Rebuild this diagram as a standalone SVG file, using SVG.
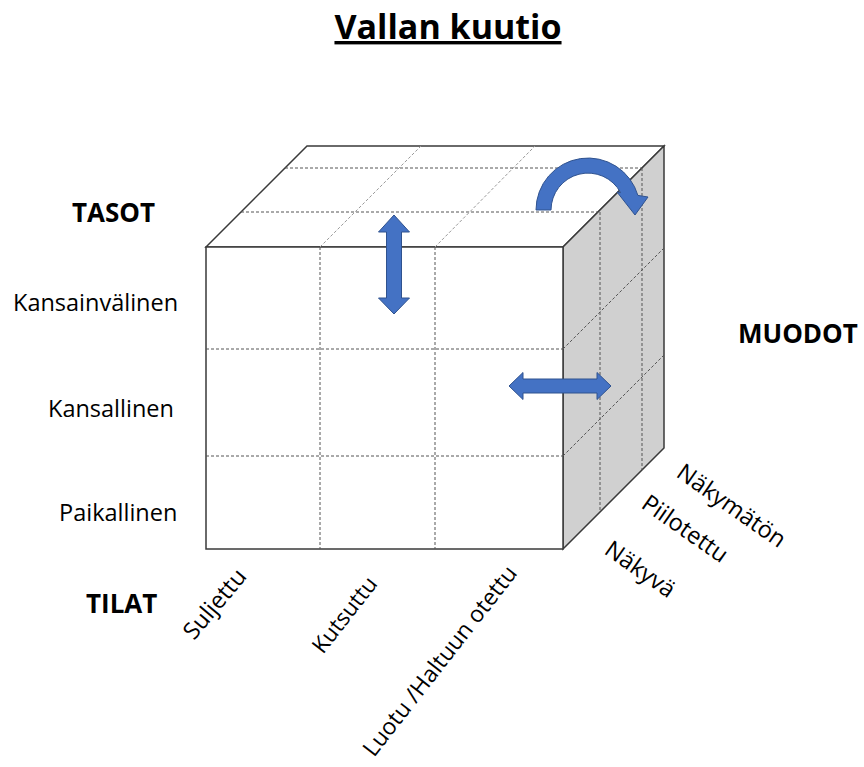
<svg xmlns="http://www.w3.org/2000/svg" width="864" height="767" viewBox="0 0 864 767">
<style>
.face{stroke:#3a3a3a;stroke-width:1.5;stroke-linejoin:miter}
.dash{stroke:#555;stroke-width:1;stroke-dasharray:3 2;fill:none}
.dashl{stroke:#999;stroke-width:1;stroke-dasharray:3 2;fill:none}
.arrow{fill:#4472C4;stroke:#2F528F;stroke-width:1}
.lbl{font-family:"Open Sans","Liberation Sans",sans-serif;font-size:23.5px;fill:#000}
.hd{font-family:"Open Sans","Liberation Sans",sans-serif;font-size:26px;font-weight:bold;fill:#000}
</style>
<rect width="864" height="767" fill="#fff"/>
<text x="448" y="39" text-anchor="middle" font-family="'Open Sans','Liberation Sans',sans-serif" font-size="34" font-weight="bold" text-decoration="underline">Vallan kuutio</text>
<g id="cube">
<polygon class="face" fill="#fff" points="206,247 307,146 664,146 563,247"/>
<polygon class="face" fill="#d0d0d0" points="563,247 664,146 664,448 563,549"/>
<rect class="face" fill="#fff" x="206" y="247" width="357" height="302"/>
<g id="grid">
<line class="dashl" x1="320" y1="247" x2="421" y2="146"/>
<line class="dashl" x1="435" y1="247" x2="535" y2="146"/>
<line class="dash" x1="285" y1="168" x2="642" y2="168"/>
<line class="dash" x1="241" y1="212" x2="598" y2="212"/>
<line class="dash" x1="320" y1="247" x2="320" y2="549"/>
<line class="dash" x1="435" y1="247" x2="435" y2="549"/>
<line class="dash" x1="206" y1="349" x2="563" y2="349"/>
<line class="dash" x1="206" y1="456" x2="563" y2="456"/>
<line class="dash" x1="600" y1="212" x2="600" y2="512"/>
<line class="dash" x1="642" y1="168" x2="642" y2="470"/>
<line class="dash" x1="563" y1="349" x2="664" y2="248"/>
<line class="dash" x1="563" y1="456" x2="664" y2="355"/>
</g>
</g>
<g id="arrows">
<polygon id="arrow-vertical" class="arrow" points="394,215 409.5,232 401.5,232 401.5,298 409.5,298 394,314 378.5,298 386.5,298 386.5,232 378.5,232"/>
<polygon id="arrow-horizontal" class="arrow" points="509,386 523,372.5 523,379 597,379 597,372.5 611,386 597,399.5 597,393 523,393 523,399.5"/>
<path id="arrow-curved" class="arrow" d="M536,210 A52,52 0 0 1 637.9,195.4 L648,197 L635,215 L617,192 L620.6,192.6 A37,37 0 0 0 551,210 Z"/>
</g>
<g id="labels">
<text class="hd" x="72" y="222">TASOT</text>
<text class="hd" x="738" y="343">MUODOT</text>
<text class="hd" x="86" y="613">TILAT</text>
<text class="lbl" x="13" y="311">Kansainvälinen</text>
<text class="lbl" x="48" y="417">Kansallinen</text>
<text class="lbl" x="59" y="521">Paikallinen</text>
<text class="lbl" transform="translate(194,641) rotate(-50)">Suljettu</text>
<text class="lbl" style="font-size:22.5px" transform="translate(323,655) rotate(-52)">Kutsuttu</text>
<text class="lbl" style="font-size:23px" transform="translate(374,758) rotate(-52)">Luotu /Haltuun otettu</text>
<text class="lbl" transform="translate(675,476) rotate(35)">Näkymätön</text>
<text class="lbl" transform="translate(640,507) rotate(35)">Piilotettu</text>
<text class="lbl" transform="translate(603,553) rotate(35)">Näkyvä</text>
</g>
</svg>
